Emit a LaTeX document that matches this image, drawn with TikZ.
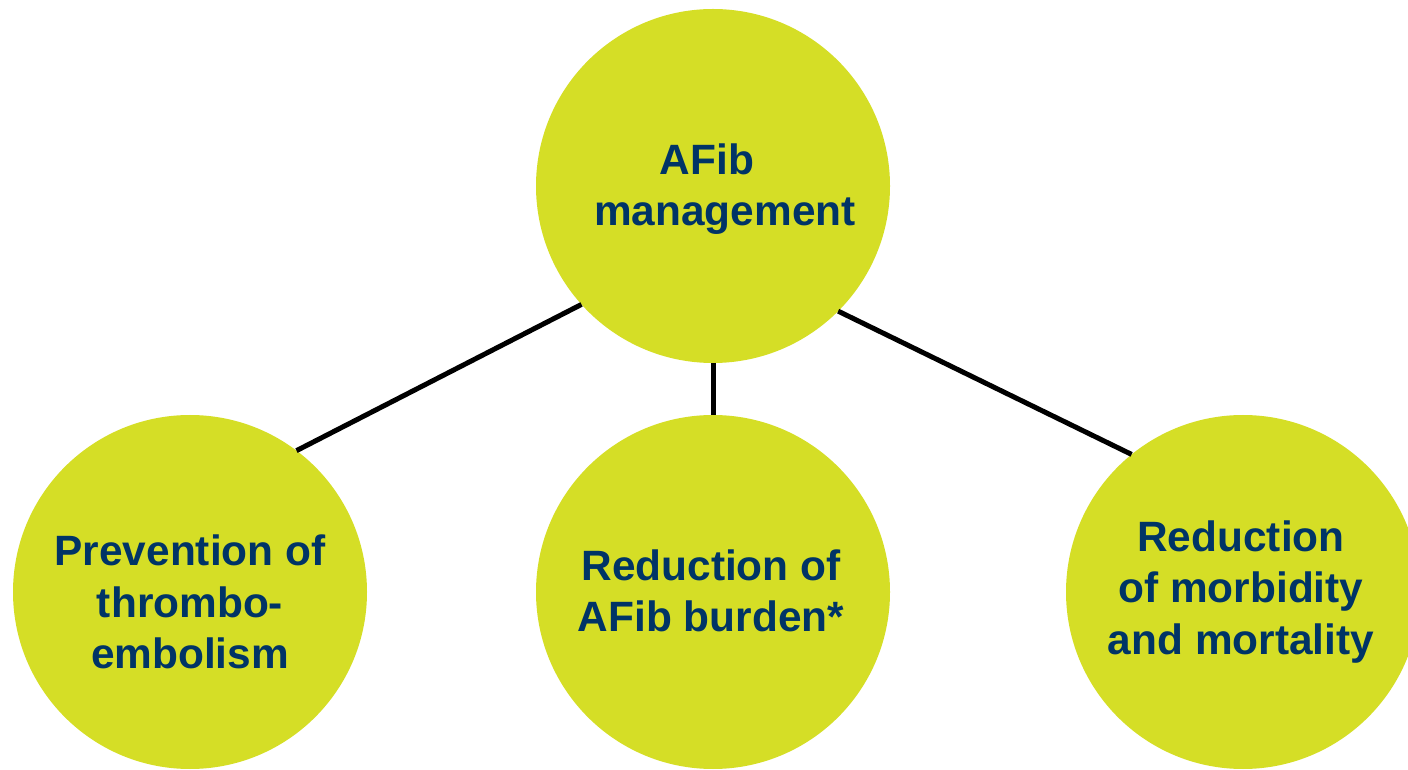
\documentclass[tikz,border=0pt]{standalone}
\usepackage{fontspec}
\setmainfont{Liberation Sans}
\definecolor{lime}{HTML}{D5DE26}
\definecolor{navy}{HTML}{003466}
\begin{document}
\begin{tikzpicture}[x=1pt,y=1pt,
  bubble/.style={circle,fill=lime,minimum size=354pt,inner sep=0pt,outer sep=0pt},
  txt/.style={align=center,text=navy,inner sep=0pt,font=\bfseries\fontsize{42.4}{51.5}\selectfont},
  link/.style={line width=5pt,draw=black}]
\useasboundingbox (0,0) rectangle (1408,769);
\clip (0,0) rectangle (1408,769);
\node[bubble] (top) at (713,583) {};
\node[bubble] (left) at (190,177) {};
\node[bubble] (mid) at (713,177) {};
\node[bubble] (right) at (1243,177) {};
\node[txt] (ttop) at ([xshift=12pt,yshift=-3pt]top.center) {\hspace*{-36pt}AFib\\management};
\node[txt] (tleft) at ([yshift=-10pt]left.center) {Prevention of\\thrombo-\\embolism};
\node[txt] (tmid) at ([xshift=-2pt,yshift=1pt]mid.center) {Reduction of\\AFib burden*};
\node[txt] (tright) at ([xshift=-2pt]right.center) {Reduction\\of morbidity\\and mortality};
\draw[link] (top.222) -- (left.53);
\draw[link] (top.south) -- (mid.north);
\draw[link] (top.315) -- (right.129);
\end{tikzpicture}
\end{document}
